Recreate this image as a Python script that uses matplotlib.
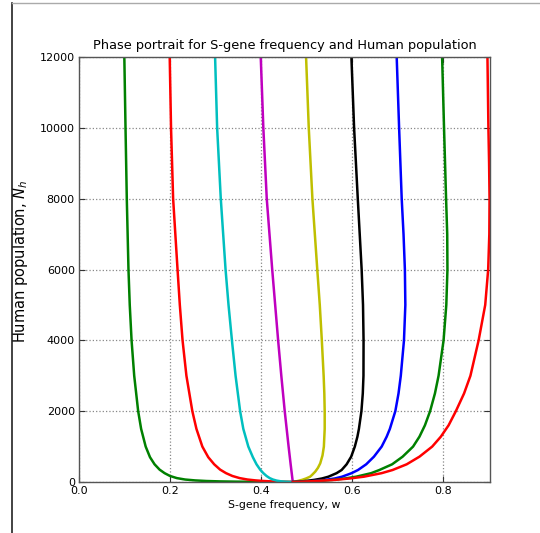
import matplotlib
matplotlib.use("Agg")
import matplotlib.pyplot as plt
from matplotlib.lines import Line2D

# Trajectories: (w values, N values), from N=12000 down to N=0
w1 = [0.0996, 0.1022, 0.1050, 0.1087, 0.1115, 0.1155, 0.1213, 0.1300, 0.1365, 0.1465, 0.1560,
      0.1660, 0.1770, 0.1880, 0.2000, 0.2150, 0.2330, 0.2550, 0.2800, 0.3100, 0.3450, 0.3900,
      0.4300, 0.4700]
n1 = [12000, 10000, 8000, 6000, 5000, 4000, 3000, 2000, 1500, 1000, 700,
      500, 350, 250, 170, 110, 70, 45, 28, 17, 10, 5,
      2, 0]

w2 = [0.1993, 0.2022, 0.2068, 0.2165, 0.2215, 0.2275, 0.2360, 0.2490, 0.2580, 0.2710, 0.2840,
      0.2970, 0.3100, 0.3230, 0.3370, 0.3530, 0.3700, 0.3880, 0.4060, 0.4250, 0.4430, 0.4600,
      0.4700]
n2 = [12000, 10000, 8000, 6000, 5000, 4000, 3000, 2000, 1500, 1000, 700,
      500, 350, 250, 170, 110, 70, 45, 28, 15, 7, 2,
      0]

w3 = [0.2990, 0.3035, 0.3115, 0.3220, 0.3285, 0.3360, 0.3440, 0.3540, 0.3610, 0.3720, 0.3820,
      0.3900, 0.3980, 0.4050, 0.4120, 0.4190, 0.4260, 0.4340, 0.4430, 0.4530, 0.4620, 0.4700]
n3 = [12000, 10000, 8000, 6000, 5000, 4000, 3000, 2000, 1500, 1000, 700,
      500, 350, 250, 170, 110, 70, 40, 20, 8, 2, 0]

w4 = [0.3993, 0.4050, 0.4125, 0.4245, 0.4375, 0.4445, 0.4520, 0.4605, 0.4650, 0.4697]
n4 = [12000, 10000, 8000, 6000, 4000, 3000, 2000, 1000, 500, 0]

w5 = [0.4989, 0.5048, 0.5128, 0.5235, 0.5290, 0.5335, 0.5375, 0.5390, 0.5398, 0.5398, 0.5380,
      0.5350, 0.5300, 0.5250, 0.5190, 0.5120, 0.5077, 0.4990, 0.4900, 0.4810, 0.4740, 0.4705]
n5 = [12000, 10000, 8000, 6000, 5000, 4000, 3000, 2500, 2000, 1500, 1000,
      750, 527, 400, 292, 200, 150, 100, 60, 30, 10, 0]

w6 = [0.5985, 0.6044, 0.6125, 0.6210, 0.6240, 0.6252, 0.6250, 0.6235, 0.6205, 0.6150, 0.6117,
      0.6060, 0.5980, 0.5880, 0.5770, 0.5660, 0.5480, 0.5340, 0.5170, 0.4990, 0.4830, 0.4705]
n6 = [12000, 10000, 8000, 6000, 5000, 4000, 3000, 2500, 2000, 1500, 1280,
      1000, 715, 500, 339, 250, 150, 100, 60, 30, 10, 0]

w7 = [0.6980, 0.7033, 0.7090, 0.7130, 0.7160, 0.7170, 0.7140, 0.7070, 0.7020, 0.6950, 0.6830,
      0.6760, 0.6650, 0.6480, 0.6310, 0.6130, 0.5990, 0.5780, 0.5620, 0.5420, 0.5190, 0.4920,
      0.4705]
n7 = [12000, 10000, 8000, 7000, 6000, 5000, 4000, 3000, 2500, 2000, 1500,
      1280, 1000, 715, 500, 339, 250, 150, 100, 60, 30, 10,
      0]

w8 = [0.7978, 0.8020, 0.8065, 0.8090, 0.8095, 0.8070, 0.8010, 0.7900, 0.7820, 0.7714, 0.7600,
      0.7480, 0.7340, 0.7110, 0.6880, 0.6600, 0.6420, 0.6090, 0.5850, 0.5580, 0.5260, 0.4950,
      0.4705]
n8 = [12000, 10000, 8000, 7000, 6000, 5000, 4000, 3000, 2500, 2000, 1600,
      1280, 1000, 715, 500, 339, 250, 150, 100, 60, 30, 10,
      0]

w9 = [0.8974, 0.8995, 0.9010, 0.9020, 0.9015, 0.8990, 0.8925, 0.8780, 0.8600, 0.8460, 0.8280,
      0.8120, 0.7950, 0.7760, 0.7480, 0.7200, 0.6890, 0.6650, 0.6260, 0.5950, 0.5620, 0.5250,
      0.4930, 0.4705]
n9 = [12000, 10000, 9000, 8000, 7000, 6000, 5000, 4000, 3000, 2500, 2000,
      1600, 1280, 1000, 715, 500, 339, 250, 150, 100, 60, 30,
      10, 0]

curves = [(w1, n1), (w2, n2), (w3, n3), (w4, n4), (w5, n5),
          (w6, n6), (w7, n7), (w8, n8), (w9, n9)]
colors = ['#008000', '#ff0000', '#00bfbf', '#bf00bf', '#bfbf00',
          '#000000', '#0000ff', '#008000', '#ff0000']

xticks = [0.0, 0.2, 0.4, 0.6, 0.8]
yticks = [0, 2000, 4000, 6000, 8000, 10000, 12000]

plt.rcParams['font.family'] = ['DejaVu Sans']
fig = plt.figure(figsize=(5.40, 5.33), dpi=100)
ax = fig.add_axes([79/540, 51/533, 411/540, 425/533])

for (w, n), c in zip(curves, colors):
    ax.plot(w, n, color=c, lw=1.8, solid_joinstyle='round')

ax.set_xlim(0, 0.903)
ax.set_ylim(0, 12000)
ax.set_xticks(xticks)
ax.set_xticklabels([f"{t:.1f}" for t in xticks])
ax.set_yticks(yticks)
ax.set_yticklabels([str(t) for t in yticks])
ax.tick_params(direction='in', top=True, right=True, length=4, labelsize=8, pad=3,
               color='#333333')
ax.grid(True, color='#888888', linestyle=':', linewidth=0.9)
for s in ax.spines.values():
    s.set_color('#555555')
    s.set_linewidth(1.0)

ax.set_title('Phase portrait for S-gene frequency and Human population', fontsize=9.3, pad=6)
ax.set_xlabel('S-gene frequency, w', fontsize=7.8, labelpad=3)
ax.set_ylabel('Human population, $N_h$', fontsize=10.5)
ax.yaxis.set_label_coords(-0.119, 0.52)

fig.add_artist(Line2D([12/540, 12/540], [0, 530/533], transform=fig.transFigure,
                      color='#222222', lw=1.2))
fig.add_artist(Line2D([12/540, 1], [530/533, 530/533], transform=fig.transFigure,
                      color='#aaaaaa', lw=1.0))

fig.savefig('out.png', dpi=100)
